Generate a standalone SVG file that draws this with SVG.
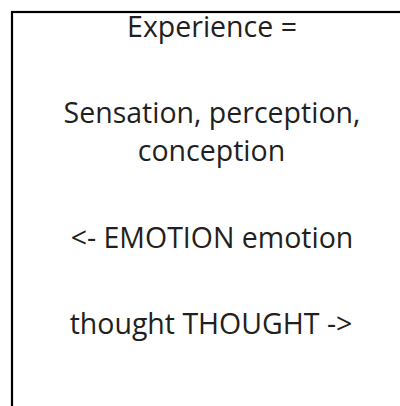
<svg xmlns="http://www.w3.org/2000/svg" width="400" height="406" viewBox="0 0 400 406">
<style>
.t{font-family:"Open Sans","Noto Sans",sans-serif;font-size:28.5px;fill:#231f20;text-anchor:middle}
</style>
<rect width="400" height="406" fill="#ffffff"/>
<g id="box">
<rect x="12" y="12" width="400" height="400" fill="none" stroke="#000000" stroke-width="2.2"/>
<text class="t" x="212" y="37">Experience =</text>
<text class="t" x="212" y="123">Sensation, perception,</text>
<text class="t" x="211.5" y="161">conception</text>
<text class="t" x="212" y="248">&lt;- EMOTION emotion</text>
<text class="t" x="211" y="334">thought THOUGHT -&gt;</text>
</g>
</svg>
